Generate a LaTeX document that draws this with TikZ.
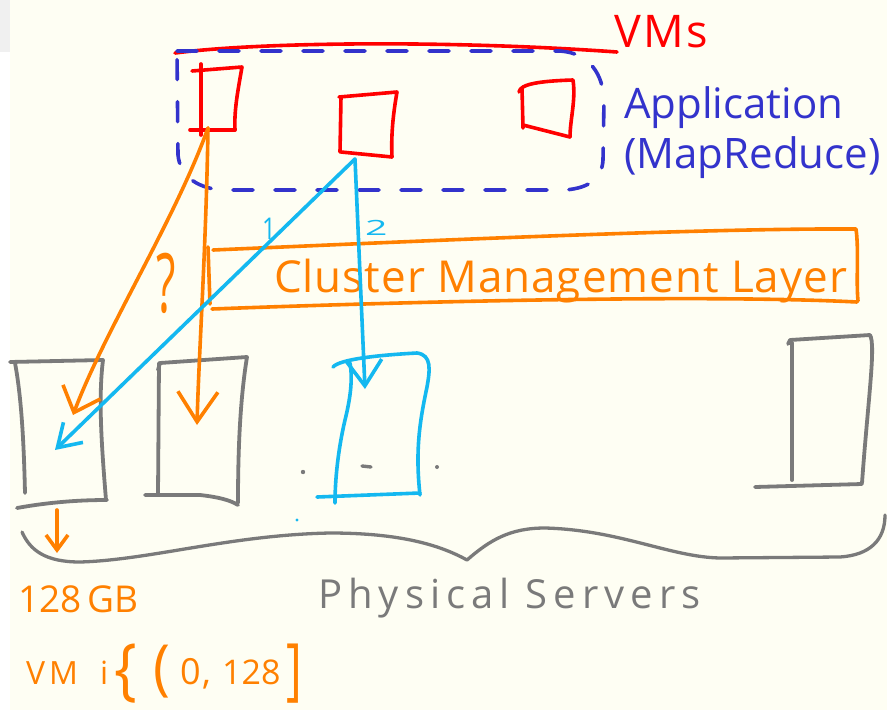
\documentclass[tikz,border=0pt]{standalone}
\usepackage{fontspec}
\setmainfont{Open Sans}
\usetikzlibrary{arrows.meta}
\definecolor{bg}{HTML}{FEFEF3}
\definecolor{vmred}{HTML}{FF0000}
\definecolor{appblue}{HTML}{3333CC}
\definecolor{clorange}{HTML}{FF8000}
\definecolor{cyanb}{HTML}{14B8F0}
\definecolor{srvgray}{HTML}{7A7A7A}
\begin{document}
\begin{tikzpicture}[x=1pt,y=-1pt,line cap=round,line join=round,
  pen/.style={line width=3.6pt},
  redpen/.style={pen,draw=vmred},
  bluepen/.style={pen,draw=appblue},
  orpen/.style={pen,draw=clorange},
  cypen/.style={pen,draw=cyanb},
  graypen/.style={line width=3.8pt,draw=srvgray},
  lbl/.style={inner sep=0pt,anchor=base west},
  fs/.style={font=\fontsize{#1}{#1}\selectfont}]
\fill[bg] (0,0) rectangle (887,710);
\fill[black!6] (0,0) rectangle (10,52);
\fill[white] (0,52) rectangle (10,710);
\useasboundingbox (0,0) rectangle (887,710);

% VMs line and label
\draw[redpen] (175,53) .. controls (260,42) and (450,40) .. (617,52);
\node[lbl,fs=45,text=vmred] (vmslabel) at (614,47) {\addfontfeatures{LetterSpace=5}VMs};

% Application container (dashed)
\draw[bluepen,dash pattern=on 20pt off 22pt]
  (177,51) -- (560,51) .. controls (590,53) and (603,75) .. (604,100)
  -- (603,160) .. controls (602,178) and (590,188) .. (565,190)
  -- (220,190) .. controls (195,187) and (180,175) .. (178,155) -- cycle;
\node[lbl,fs=42,text=appblue] (applabel) at (624,118) {Application};
\node[lbl,fs=42,text=appblue] (mrlabel) at (624,168) {(MapReduce)};

% VM boxes
\draw[redpen] (192,71) -- (242,67) .. controls (238,90) and (234,110) .. (235,130);
\draw[redpen] (190,130) -- (235,130);
\draw[redpen] (201,64) -- (201,135);
\draw[redpen] (339,97) -- (397,92) .. controls (393,115) and (391,135) .. (392,157);
\draw[redpen] (341,152) -- (392,157);
\draw[redpen] (341,97) -- (340,152);
\draw[redpen] (519,92) .. controls (520,84) and (540,81) .. (573,80)
  .. controls (576,100) and (570,120) .. (570,137);
\draw[redpen] (523,125) -- (570,137);
\draw[redpen] (522,88) -- (523,128);

\coordinate (vmA) at (208,128);
\coordinate (vmB) at (355,159);

% Cluster management layer
\draw[orpen] (208,247) -- (210,304);
\draw[orpen] (213,250) .. controls (400,242) and (700,228) .. (856,229)
  .. controls (859,250) and (856,280) .. (858,301);
\draw[orpen] (212,309) .. controls (400,302) and (700,294) .. (857,302);
\node[lbl,fs=44,text=clorange] (cllabel) at (274,292) {\addfontfeatures{LetterSpace=2.2}Cluster Management Layer};

% Physical servers
\draw[graypen] (10,362) -- (103,360) .. controls (98,400) and (102,450) .. (106,500);
\draw[graypen] (15,363) .. controls (22,400) and (24,450) .. (25,493);
\draw[graypen] (17,508) .. controls (50,502) and (80,500) .. (107,500);
\draw[graypen] (158,370) -- (160,363) -- (247,357) .. controls (240,400) and (238,450) .. (238,503);
\draw[graypen] (159,363) -- (158,495);
\draw[graypen] (145,495) -- (200,495) .. controls (218,497) and (230,500) .. (238,505);
\draw[cypen] (333,367) .. controls (340,359) and (380,355) .. (417,353)
  .. controls (432,355) and (430,370) .. (427,387)
  .. controls (420,420) and (415,450) .. (420,495);
\draw[cypen] (350,363) .. controls (353,380) and (350,400) .. (345,420)
  .. controls (338,450) and (335,480) .. (335,503);
\draw[cypen] (317,497) -- (420,493);
\draw[graypen] (788,344) -- (790,340) -- (870,335) .. controls (876,345) and (868,400) .. (862,483);
\draw[graypen] (792,343) -- (792,480);
\draw[graypen] (755,487) -- (862,484);

\coordinate (srvA) at (73,415);
\coordinate (srvB) at (197,425);
\coordinate (srvAin) at (55,450);
\coordinate (srvC) at (365,389);

% dots between servers
\fill[srvgray] (303,472) circle (2.2pt);
\draw[srvgray,line width=3.4pt] (362,466) -- (371,467);
\fill[srvgray] (437,467) circle (2pt);
\fill[cyanb] (297,520) circle (1.7pt);

% Orange arrows
\draw[orpen,-{Straight Barb[length=22pt,width=40pt]}] (vmA) .. controls (175,220) and (105,330) .. (srvA);
\draw[orpen,-{Straight Barb[length=30pt,width=40pt]}] (vmA) .. controls (206,250) and (199,350) .. (srvB);
\node[inner sep=0pt,anchor=base west,text=clorange,fs=82] (qmark) at (156,312) {\scalebox{0.55}[1]{?}};

% Blue arrows
\draw[cypen,-{Straight Barb[length=22pt,width=28pt]}] (vmB) -- (srvAin);
\draw[cypen,-{Straight Barb[length=26pt,width=36pt]}] (vmB) -- (srvC);
\node[lbl,fs=30,text=cyanb] (one) at (262,239) {\scalebox{0.8}[1]{1}};
\node[lbl,fs=28,text=cyanb] (two) at (365,235) {\scalebox{1.4}[0.75]{2}};

% Brace
\draw[graypen,line width=3.3pt] (22,532) .. controls (30,550) and (45,562) .. (80,562)
  .. controls (150,560) and (230,535) .. (330,533)
  .. controls (400,533) and (440,545) .. (467,560)
  .. controls (490,540) and (510,528) .. (545,528)
  .. controls (620,530) and (670,557) .. (720,558)
  -- (840,557) .. controls (870,555) and (885,540) .. (885,515);
\node[lbl,fs=40,text=srvgray] (pslabel) at (318,608) {\addfontfeatures{LetterSpace=15}Physical Servers};

% 128 GB and range
\coordinate (memtop) at (57,510);
\coordinate (membot) at (57,553);
\draw[orpen,-{Straight Barb[length=15pt,width=22pt]}] (memtop) -- (membot);
\node[lbl,fs=37,text=clorange] (memlabel) at (18,612) {128\,GB};
\node[lbl,text=clorange] (rangelabel) at (26,684) {%
  \rlap{\fontsize{32}{32}\selectfont\addfontfeatures{LetterSpace=12}VM}\hspace{74pt}%
  \rlap{\fontsize{32}{32}\selectfont i}\hspace{14pt}%
  \rlap{\raisebox{-8pt}{\scalebox{1.5}[1.7]{\fontsize{40}{40}\selectfont\{}}}\hspace{39pt}%
  \rlap{\raisebox{-4pt}{\scalebox{1.5}[1.6]{\fontsize{38}{38}\selectfont(}}}\hspace{27pt}%
  \rlap{\fontsize{36}{36}\selectfont 0}\hspace{22pt}%
  \rlap{\fontsize{36}{36}\selectfont ,}\hspace{20pt}%
  \rlap{\fontsize{34}{34}\selectfont 128}\hspace{64pt}%
  \raisebox{-8pt}{\scalebox{1.2}[1.7]{\fontsize{40}{40}\selectfont]}}};
\end{tikzpicture}
\end{document}
